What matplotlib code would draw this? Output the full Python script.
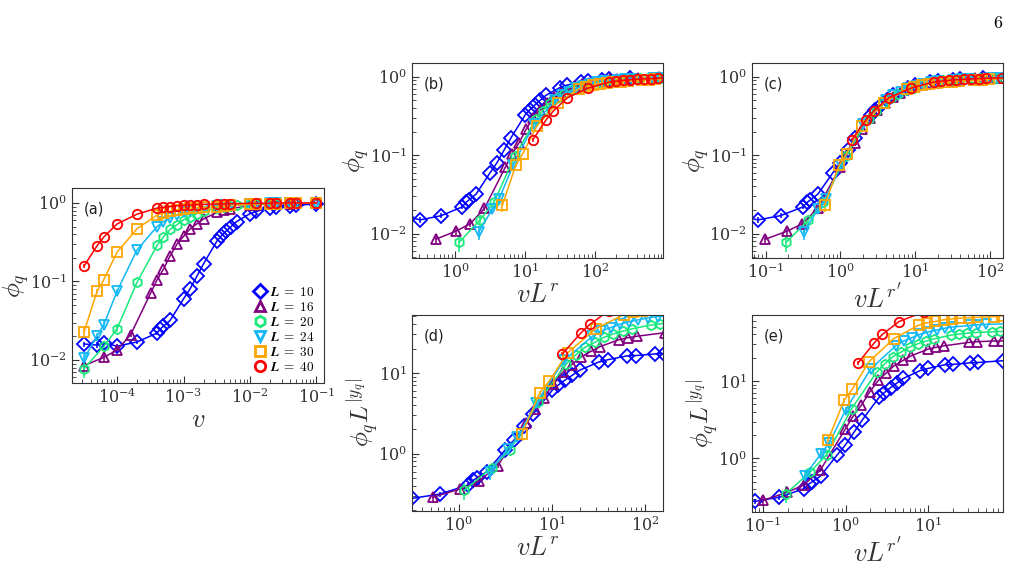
import matplotlib
matplotlib.use("Agg")
import matplotlib.pyplot as plt
from matplotlib.lines import Line2D
import numpy as np

plt.rcParams['mathtext.fontset'] = 'cm'
plt.rcParams['font.family'] = 'serif'
plt.rcParams['font.serif'] = ['DejaVu Serif']

# system sizes and styles
sizes = [10, 16, 20, 24, 30, 40]
colors = ['#0000ff', '#800080', '#19e87a', '#12b8f5', '#ffa500', '#ff0000']
markers = ['D', '^', 'h', 'v', 's', 'o']

# exponents used in the collapse panels
r = 3.5
r_prime = 2.9
yq = 1.27

# raw data: v and phi_q for each L
v_L10 = [3.2e-5, 5e-5, 6.3e-5, 1e-4, 2e-4, 4e-4, 4.5e-4, 5e-4, 6.3e-4, 1e-3, 1.25e-3, 1.6e-3, 2e-3,
         3.2e-3, 3.7e-3, 4.4e-3, 5.2e-3, 6.3e-3, 1e-2, 1.25e-2, 2e-2, 2.5e-2, 4e-2, 5e-2, 1e-1]
phi_L10 = [0.016, 0.0155, 0.0165, 0.015, 0.017, 0.022, 0.025, 0.027, 0.032, 0.060, 0.080, 0.118, 0.168,
           0.33, 0.38, 0.44, 0.50, 0.58, 0.73, 0.78, 0.87, 0.88, 0.92, 0.93, 0.98]
err_L10 = [0.0012, 0.0012, 0.0012, 0.0012, 0.0012, 0.0012]

v_L16 = [3.2e-5, 6.3e-5, 1e-4, 1.6e-4, 3.2e-4, 4e-4, 5e-4, 6.3e-4, 8e-4, 1e-3, 1.25e-3, 1.6e-3, 2e-3,
         3.2e-3, 4e-3, 5e-3, 1e-2, 1.25e-2, 2e-2, 2.5e-2, 4e-2, 5e-2, 1e-1]
phi_L16 = [0.0085, 0.0108, 0.0134, 0.021, 0.071, 0.105, 0.144, 0.213, 0.30, 0.375, 0.466, 0.545, 0.625,
           0.76, 0.805, 0.84, 0.93, 0.95, 0.97, 0.97, 0.98, 0.99, 1.0]
err_L16 = [0.0012, 0.0012, 0.0012, 0.0015]

v_L20 = [3.2e-5, 6.3e-5, 1e-4, 2e-4, 4e-4, 5e-4, 6.3e-4, 8e-4, 1e-3, 1.25e-3, 1.6e-3, 2e-3,
         3.2e-3, 4e-3, 5e-3, 6.3e-3, 1e-2, 1.25e-2, 2e-2, 2.5e-2, 4e-2, 5e-2, 1e-1]
phi_L20 = [0.0078, 0.0149, 0.025, 0.098, 0.288, 0.37, 0.46, 0.53, 0.61, 0.67, 0.73, 0.78,
           0.87, 0.90, 0.92, 0.94, 0.96, 0.97, 0.98, 0.98, 0.99, 0.99, 1.0]
err_L20 = [0.0019, 0.0015, 0.002]

v_L24 = [3.2e-5, 5e-5, 6.3e-5, 1e-4, 2e-4, 4e-4, 5e-4, 6.3e-4, 8e-4, 1e-3, 1.25e-3, 1.6e-3, 2e-3,
         3.2e-3, 4e-3, 5e-3, 1e-2, 1.25e-2, 2e-2, 2.5e-2, 4e-2, 5e-2, 1e-1]
phi_L24 = [0.0105, 0.0204, 0.028, 0.075, 0.253, 0.50, 0.58, 0.64, 0.71, 0.76, 0.80, 0.85, 0.88,
           0.92, 0.94, 0.95, 0.97, 0.98, 0.99, 0.99, 1.0, 1.0, 1.0]
err_L24 = [0.0022, 0.002, 0.003, 0.006]

v_L30 = [3.2e-5, 5e-5, 6.3e-5, 1e-4, 2e-4, 4e-4, 5e-4, 6.3e-4, 8e-4, 1e-3, 1.25e-3, 1.6e-3, 2e-3,
         3.2e-3, 4e-3, 5e-3, 1e-2, 1.25e-2, 2e-2, 2.5e-2, 4e-2, 5e-2, 1e-1]
phi_L30 = [0.023, 0.075, 0.105, 0.236, 0.47, 0.70, 0.75, 0.78, 0.82, 0.84, 0.86, 0.87, 0.88,
           0.90, 0.92, 0.93, 0.96, 0.97, 0.98, 0.98, 0.99, 0.99, 1.0]
err_L30 = [0.004, 0.005]

v_L40 = [3.2e-5, 5e-5, 6.3e-5, 1e-4, 2e-4, 4e-4, 5e-4, 6.3e-4, 8e-4, 1e-3, 1.25e-3, 1.6e-3, 2e-3,
         3.2e-3, 4e-3, 5e-3, 1.25e-2, 2e-2, 2.5e-2, 4e-2, 5e-2, 1e-1]
phi_L40 = [0.158, 0.285, 0.368, 0.54, 0.72, 0.86, 0.88, 0.90, 0.92, 0.93, 0.94, 0.95, 0.96,
           0.97, 0.975, 0.98, 0.99, 0.99, 1.0, 1.0, 1.0, 1.0]
err_L40 = [0.01]

v_all = [v_L10, v_L16, v_L20, v_L24, v_L30, v_L40]
phi_all = [phi_L10, phi_L16, phi_L20, phi_L24, phi_L30, phi_L40]
err_all = [err_L10, err_L16, err_L20, err_L24, err_L30, err_L40]

W, H = 1019, 577
fig = plt.figure(figsize=(W / 100, H / 100), dpi=100)


def box(x0, y0, x1, y1):
    return [x0 / W, 1 - y1 / H, (x1 - x0) / W, (y1 - y0) / H]


ax_a = fig.add_axes(box(72, 188, 324, 383))
ax_b = fig.add_axes(box(412, 63, 663, 258))
ax_c = fig.add_axes(box(752, 63, 1003, 258))
ax_d = fig.add_axes(box(412, 315, 663, 511))
ax_e = fig.add_axes(box(752, 315, 1003, 512))

# panel settings: (axes, x exponent, y exponent, xlim, ylim, xlabel, ylabel, tag)
panels = [
    (ax_a, 0.0, 0.0, (2.1e-5, 0.13), (5.1e-3, 1.55), r'$v$', r'$\phi_q$', '(a)'),
    (ax_b, r, 0.0, (0.24, 950), (4.9e-3, 1.5), r'$vL^r$', r'$\phi_q$', '(b)'),
    (ax_c, r_prime, 0.0, (0.066, 148), (4.9e-3, 1.5), r"$vL^{r'}$", r'$\phi_q$', '(c)'),
    (ax_d, r, yq, (0.316, 155), (0.195, 52), r'$vL^r$', r'$\phi_q L^{|y_q|}$', '(d)'),
    (ax_e, r_prime, yq, (0.074, 80), (0.204, 71), r"$vL^{r'}$", r'$\phi_q L^{|y_q|}$', '(e)'),
]

for ax, ex, ey, xlim, ylim, xlab, ylab, tag in panels:
    for L, v, phi, err, c, m in zip(sizes, v_all, phi_all, err_all, colors, markers):
        v = np.array(v)
        phi = np.array(phi)
        e = np.array(err + [0.0] * (len(phi) - len(err)))
        x = v * L ** ex
        y = phi * L ** ey
        ax.errorbar(x, y, yerr=e * L ** ey, color=c, marker=m, ms=6.8, mfc='none', mew=1.3,
                    lw=1.1, elinewidth=1.1, capsize=0)
    ax.set_xscale('log')
    ax.set_yscale('log')
    ax.set_xlim(*xlim)
    ax.set_ylim(*ylim)
    ax.set_xlabel(xlab, fontsize=19, color='#333333', labelpad=0)
    ax.set_ylabel(ylab, fontsize=18, color='#333333', labelpad=-1)
    ax.tick_params(which='both', direction='in', colors='#333333', labelsize=11.5)
    ax.tick_params(which='major', length=5)
    ax.tick_params(which='minor', length=3)
    for s in ax.spines.values():
        s.set_color('#333333')
    ax.text(0.045, 0.93, tag, transform=ax.transAxes, fontsize=10.5, va='top',
            family='DejaVu Sans', color='#222222')

# legend with markers only
handles = [Line2D([], [], ls='none', marker=m, color=c, mfc='none', ms=7.5, mew=2.0)
           for m, c in zip(markers, colors)]
labels = [rf'$\boldsymbol{{L}}\;\mathbf{{=}}\;\mathbf{{{L}}}$' for L in sizes]
ax_a.legend(handles, labels, loc='lower right', frameon=False, fontsize=9.5,
            handlelength=1.0, handletextpad=0.3, labelspacing=0.15, borderaxespad=0.3)

fig.text(0.985, 0.975, r'$\mathrm{6}$', fontsize=13, ha='right', va='top')

fig.savefig('out.png', dpi=100)
